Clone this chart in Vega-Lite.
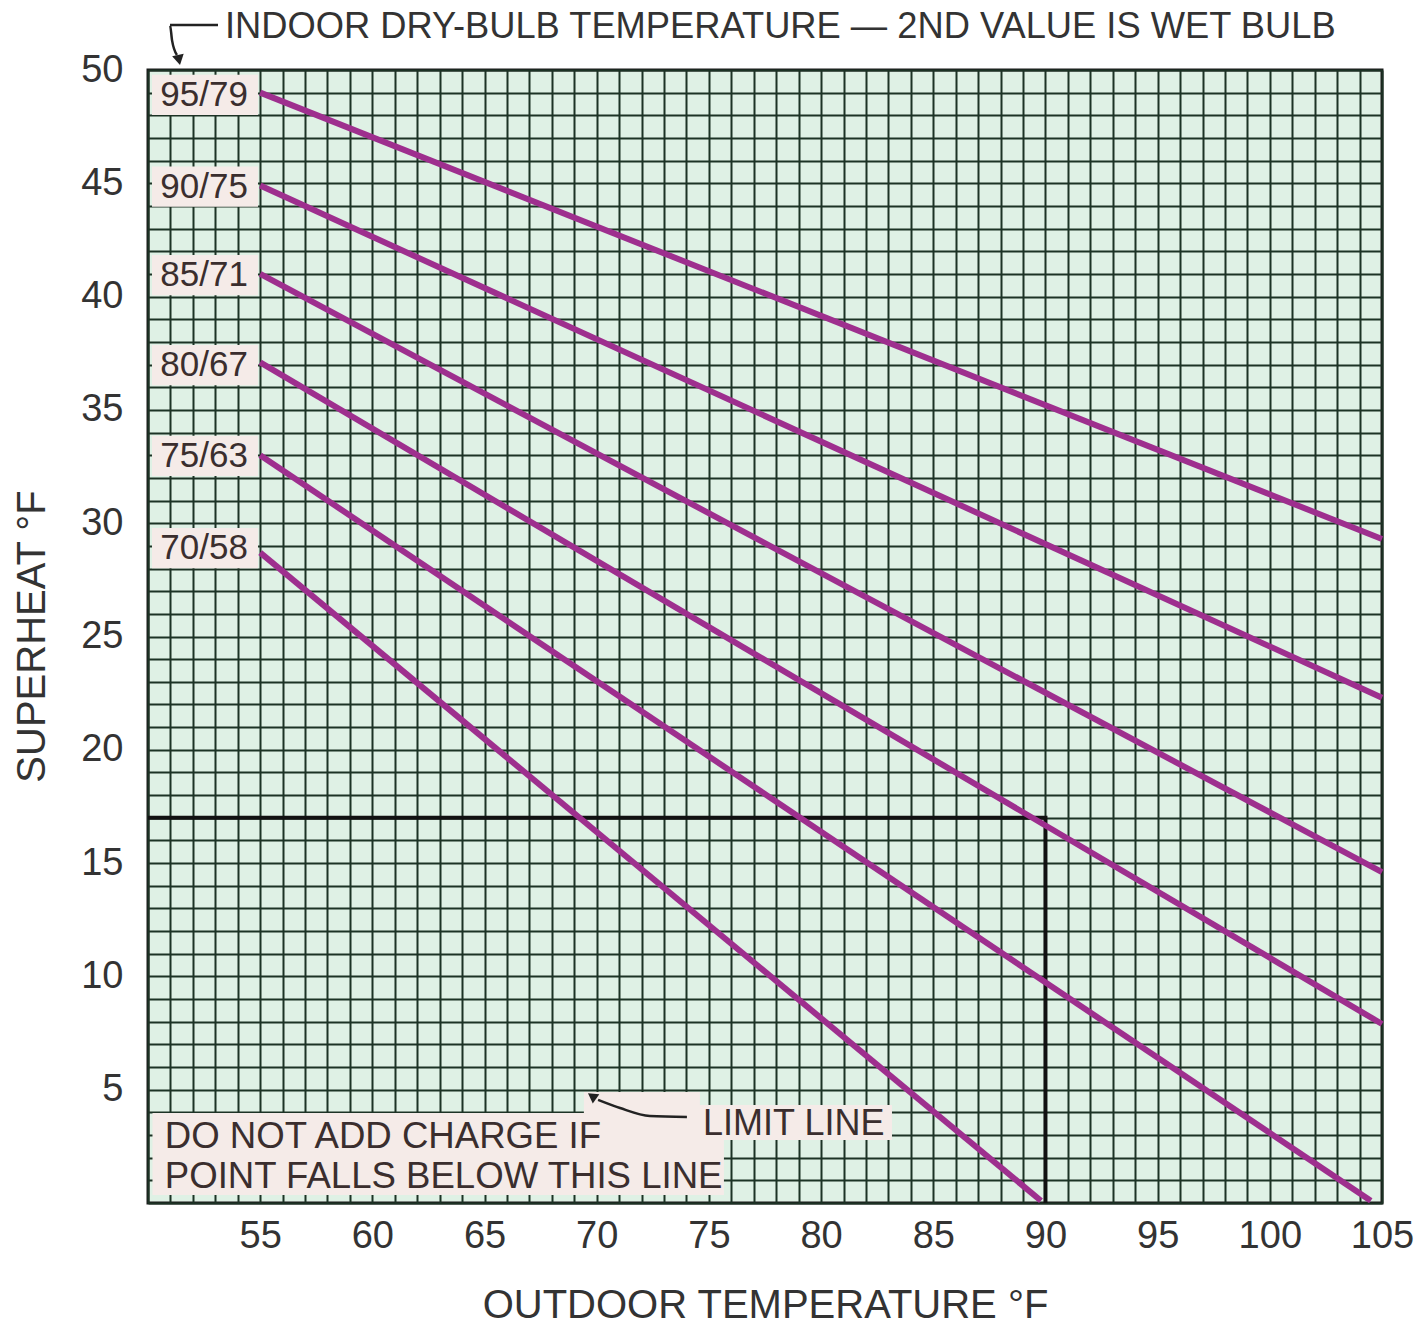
{
  "$schema": "https://vega.github.io/schema/vega-lite/v6.json",
  "width": 1234,
  "height": 1133,
  "autosize": {"type": "none"},
  "padding": {"left": 148, "top": 70, "right": 40, "bottom": 123},
  "background": "white",
  "config": {
    "view": {"fill": "#dff1e5", "stroke": "#1a1a1a", "strokeWidth": 3},
    "font": "Liberation Sans"
  },
  "datasets": {
    "lines": [
      {"series": "95/79", "outdoor": 55, "superheat": 49.0},
      {"series": "95/79", "outdoor": 105, "superheat": 29.3},
      {"series": "90/75", "outdoor": 55, "superheat": 44.9},
      {"series": "90/75", "outdoor": 105, "superheat": 22.3},
      {"series": "85/71", "outdoor": 55, "superheat": 41.0},
      {"series": "85/71", "outdoor": 105, "superheat": 14.6},
      {"series": "80/67", "outdoor": 55, "superheat": 37.1},
      {"series": "80/67", "outdoor": 105, "superheat": 7.9},
      {"series": "75/63", "outdoor": 55, "superheat": 33.0},
      {"series": "75/63", "outdoor": 104.5, "superheat": 0.1},
      {"series": "70/58", "outdoor": 55, "superheat": 28.7},
      {"series": "70/58", "outdoor": 89.8, "superheat": 0.1}
    ],
    "labels": [
      {"label": "95/79", "superheat": 48.9},
      {"label": "90/75", "superheat": 44.85},
      {"label": "85/71", "superheat": 40.95},
      {"label": "80/67", "superheat": 36.98},
      {"label": "75/63", "superheat": 32.97},
      {"label": "70/58", "superheat": 28.9}
    ],
    "limit": [
      {"i": 0, "outdoor": 50, "superheat": 17},
      {"i": 1, "outdoor": 90, "superheat": 17},
      {"i": 2, "outdoor": 90, "superheat": 0}
    ],
    "topArrow": [
      {"i": 0, "outdoor": 53.12, "superheat": 51.99},
      {"i": 1, "outdoor": 50.98, "superheat": 51.99},
      {"i": 2, "outdoor": 51.07, "superheat": 51.32},
      {"i": 3, "outdoor": 51.29, "superheat": 50.66}
    ],
    "limitArrow": [
      {"i": 0, "outdoor": 74.02, "superheat": 3.8},
      {"i": 1, "outdoor": 72.37, "superheat": 3.84},
      {"i": 2, "outdoor": 71.04, "superheat": 4.19},
      {"i": 3, "outdoor": 70.06, "superheat": 4.55}
    ]
  },
  "layer": [
    {
      "data": {"name": "lines"},
      "mark": {"type": "line", "opacity": 0},
      "encoding": {
        "x": {
          "field": "outdoor",
          "type": "quantitative",
          "scale": {"domain": [50, 105], "nice": false, "zero": false},
          "axis": {
            "values": [50,51,52,53,54,55,56,57,58,59,60,61,62,63,64,65,66,67,68,69,70,71,72,73,74,75,76,77,78,79,80,81,82,83,84,85,86,87,88,89,90,91,92,93,94,95,96,97,98,99,100,101,102,103,104,105],
            "tickCount": 1000,
            "format": "d",
            "labelExpr": "datum.value % 5 == 0 && datum.value > 50 ? datum.label : ''",
            "grid": true,
            "gridColor": "#1c3325",
            "gridWidth": 2,
            "gridOpacity": 1,
            "ticks": false,
            "tickSize": 0,
            "domain": false,
            "labelFlush": false,
            "labelOverlap": false,
            "labelFontSize": 38,
            "labelColor": "#333333",
            "labelPadding": 14,
            "title": "OUTDOOR TEMPERATURE °F",
            "titleFontSize": 40,
            "titleFontWeight": "normal",
            "titleColor": "#333333",
            "titleY": 102,
            "titleBaseline": "middle"
          }
        },
        "y": {
          "field": "superheat",
          "type": "quantitative",
          "scale": {"domain": [0, 50], "nice": false, "zero": false},
          "axis": {
            "values": [0,1,2,3,4,5,6,7,8,9,10,11,12,13,14,15,16,17,18,19,20,21,22,23,24,25,26,27,28,29,30,31,32,33,34,35,36,37,38,39,40,41,42,43,44,45,46,47,48,49,50],
            "tickCount": 1000,
            "format": "d",
            "labelExpr": "datum.value % 5 == 0 && datum.value > 0 ? datum.label : ''",
            "grid": true,
            "gridColor": "#1c3325",
            "gridWidth": 2,
            "gridOpacity": 1,
            "ticks": false,
            "tickSize": 0,
            "domain": false,
            "labelFlush": false,
            "labelOverlap": false,
            "labelFontSize": 38,
            "labelColor": "#333333",
            "labelPadding": 25,
            "title": "SUPERHEAT °F",
            "titleFontSize": 40,
            "titleFontWeight": "normal",
            "titleColor": "#333333",
            "titleX": -116,
            "titleY": 566,
            "titleAngle": -90,
            "titleAlign": "center",
            "titleBaseline": "middle"
          }
        },
        "detail": {"field": "series"}
      }
    },
    {
      "data": {"name": "labels"},
      "mark": {"type": "point", "shape": "M-1,-0.38H1V0.38H-1Z", "filled": true, "color": "#f5ebe8", "opacity": 1, "size": 11236},
      "encoding": {
        "x": {"datum": 52.54, "type": "quantitative"},
        "y": {"field": "superheat", "type": "quantitative"}
      }
    },
    {
      "data": {"values": [{}]},
      "mark": {"type": "rect", "color": "#f5ebe8"},
      "encoding": {
        "x": {"datum": 50.2, "type": "quantitative"},
        "x2": {"datum": 75.67},
        "y": {"datum": 0.35, "type": "quantitative"},
        "y2": {"datum": 3.97}
      }
    },
    {
      "data": {"values": [{}]},
      "mark": {"type": "rect", "color": "#f5ebe8"},
      "encoding": {
        "x": {"datum": 69.43, "type": "quantitative"},
        "x2": {"datum": 74.6},
        "y": {"datum": 3.9, "type": "quantitative"},
        "y2": {"datum": 4.9}
      }
    },
    {
      "data": {"values": [{}]},
      "mark": {"type": "rect", "color": "#f5ebe8"},
      "encoding": {
        "x": {"datum": 69.43, "type": "quantitative"},
        "x2": {"datum": 83.16},
        "y": {"datum": 2.78, "type": "quantitative"},
        "y2": {"datum": 4.32}
      }
    },
    {
      "data": {"name": "limit"},
      "mark": {"type": "line", "color": "#111111", "strokeWidth": 4, "strokeJoin": "miter"},
      "encoding": {
        "x": {"field": "outdoor", "type": "quantitative"},
        "y": {"field": "superheat", "type": "quantitative"},
        "order": {"field": "i"}
      }
    },
    {
      "data": {"name": "lines"},
      "mark": {"type": "line", "color": "#9e2f8e", "strokeWidth": 6, "strokeCap": "butt"},
      "encoding": {
        "x": {"field": "outdoor", "type": "quantitative"},
        "y": {"field": "superheat", "type": "quantitative"},
        "detail": {"field": "series"}
      }
    },
    {
      "data": {"name": "labels"},
      "mark": {"type": "text", "fontSize": 35, "color": "#3a2e2e", "align": "center", "baseline": "middle"},
      "encoding": {
        "x": {"datum": 52.5, "type": "quantitative"},
        "y": {"field": "superheat", "type": "quantitative"},
        "text": {"field": "label"}
      }
    },
    {
      "data": {"name": "topArrow"},
      "mark": {"type": "line", "color": "#222222", "strokeWidth": 2.5, "interpolate": "monotone"},
      "encoding": {
        "x": {"field": "outdoor", "type": "quantitative"},
        "y": {"field": "superheat", "type": "quantitative"},
        "order": {"field": "i"}
      }
    },
    {
      "data": {"values": [{}]},
      "mark": {"type": "point", "shape": "triangle-down", "filled": true, "color": "#222222", "opacity": 1, "size": 140, "angle": -12},
      "encoding": {
        "x": {"datum": 51.38, "type": "quantitative"},
        "y": {"datum": 50.44, "type": "quantitative"}
      }
    },
    {
      "data": {"name": "limitArrow"},
      "mark": {"type": "line", "color": "#222222", "strokeWidth": 2.5, "interpolate": "monotone"},
      "encoding": {
        "x": {"field": "outdoor", "type": "quantitative"},
        "y": {"field": "superheat", "type": "quantitative"},
        "order": {"field": "i"}
      }
    },
    {
      "data": {"values": [{}]},
      "mark": {"type": "point", "shape": "triangle-up", "filled": true, "color": "#222222", "opacity": 1, "size": 130, "angle": -55},
      "encoding": {
        "x": {"datum": 69.79, "type": "quantitative"},
        "y": {"datum": 4.72, "type": "quantitative"}
      }
    },
    {
      "data": {"values": [{}]},
      "mark": {"type": "text", "fontSize": 36.3, "color": "#333333", "align": "left", "baseline": "middle", "text": "INDOOR DRY-BULB TEMPERATURE — 2ND VALUE IS WET BULB"},
      "encoding": {
        "x": {"datum": 53.43, "type": "quantitative"},
        "y": {"datum": 51.9, "type": "quantitative"}
      }
    },
    {
      "data": {"values": [{}]},
      "mark": {"type": "text", "fontSize": 36.6, "color": "#3a2e2e", "align": "left", "baseline": "middle", "text": "DO NOT ADD CHARGE IF"},
      "encoding": {
        "x": {"datum": 50.75, "type": "quantitative"},
        "y": {"datum": 2.91, "type": "quantitative"}
      }
    },
    {
      "data": {"values": [{}]},
      "mark": {"type": "text", "fontSize": 36.6, "color": "#3a2e2e", "align": "left", "baseline": "middle", "text": "POINT FALLS BELOW THIS LINE"},
      "encoding": {
        "x": {"datum": 50.75, "type": "quantitative"},
        "y": {"datum": 1.15, "type": "quantitative"}
      }
    },
    {
      "data": {"values": [{}]},
      "mark": {"type": "text", "fontSize": 36, "color": "#3a2e2e", "align": "left", "baseline": "middle", "text": "LIMIT LINE"},
      "encoding": {
        "x": {"datum": 74.74, "type": "quantitative"},
        "y": {"datum": 3.49, "type": "quantitative"}
      }
    }
  ]
}
